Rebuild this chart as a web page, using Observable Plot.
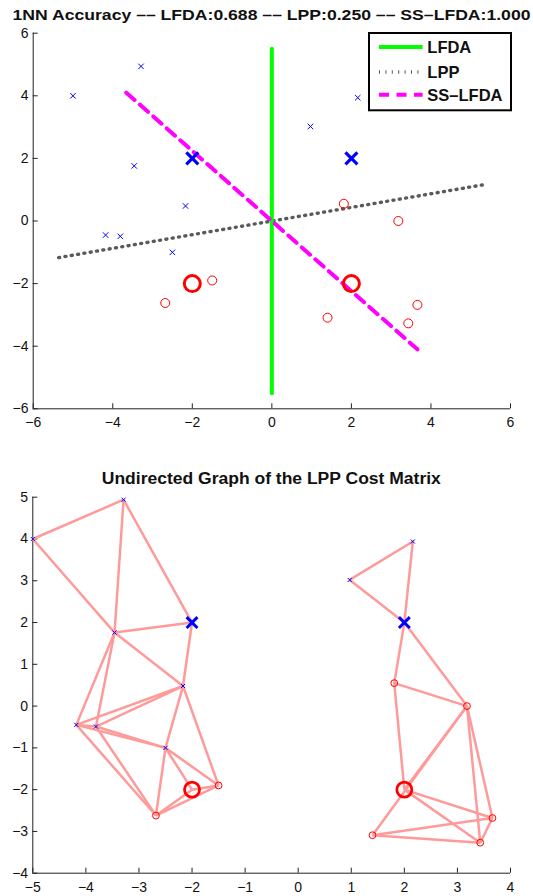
<!DOCTYPE html>
<html>
<head>
<meta charset="utf-8">
<script src="https://cdn.jsdelivr.net/npm/d3@7"></script>
<script src="https://cdn.jsdelivr.net/npm/@observablehq/plot@0.6"></script>
<style>
  body { margin: 0; background: #fff; }
  #page { position: relative; width: 533px; height: 896px; overflow: hidden;
          font-family: "Liberation Sans", Arial, Helvetica, sans-serif; }
  #page > * { position: absolute; }
</style>
</head>
<body>
<div id="page"></div>
<script>
const FONT = '"Liberation Sans", Arial, Helvetica, sans-serif';
const AXIS = "#222";

// ---- samples -------------------------------------------------------------
// unlabeled class-1 samples (crosses)
const crossX = [-3.29, -5.00, -3.46, -2.17, -4.18, -3.81, -2.50, 2.16, 0.97];
const crossY = [ 4.94,  4.00,  1.76,  0.48, -0.45, -0.49, -1.00, 3.94, 3.02];
// unlabeled class-2 samples (circles)
const circleX = [-1.50, -2.68, 1.81, 3.18,  3.66,  1.40,  3.43];
const circleY = [-1.90, -2.62, 0.55, 0.00, -2.68, -3.09, -3.27];
// labeled samples
const labeledCrossX = [-2, 2];
const labeledCrossY = [ 2, 2];
const labeledCircleX = [-2, 2];
const labeledCircleY = [-2, -2];

// ---- embedding directions (segment end points) ----------------------------
const lfdaX = [0, 0];          const lfdaY = [-5.5, 5.5];
const lppX = [-5.36, 5.33];    const lppY = [-1.17, 1.16];
const sslfdaX = [-3.66, 3.66]; const sslfdaY = [4.1, -4.1];

// ---- LPP affinity graph (pairs of sample ids) -----------------------------
const edgeFrom = ["c1","c0","c0","c1","c2","c2","xa","c2","c2","c4","c4","c5","c4","c5","c4","c5","c3","c3","c6","c6","c6","o1","o1","oa",
                  "c8","c8","c7","xb","xb","o2","o2","o3","o3","o3","o3","ob","ob","o5","o5","o4"];
const edgeTo   = ["c0","c2","xa","c2","c3","xa","c3","c4","c5","c5","c3","c3","c6","c6","o1","o1","c6","o0","o1","o0","oa","o0","oa","o0",
                  "c7","xb","xb","o2","o3","o3","ob","ob","o5","o6","o4","o4","o6","o4","o6","o6"];

// ---- ticks ----------------------------------------------------------------
const topTicks = [-6, -4, -2, 0, 2, 4, 6];
const bottomXTicks = [-5, -4, -3, -2, -1, 0, 1, 2, 3, 4];
const bottomYTicks = [-4, -3, -2, -1, 0, 1, 2, 3, 4, 5];

// ---- texts ----------------------------------------------------------------
const topTitle = "1NN Accuracy –– LFDA:0.688 –– LPP:0.250 –– SS–LFDA:1.000";
const bottomTitle = "Undirected Graph of the LPP Cost Matrix";
const legendNames = ["LFDA", "LPP", "SS–LFDA"];

// ---- derived tables -------------------------------------------------------
const pts = xs => ys => xs.map((x, i) => ({x, y: ys[i]}));
const crosses = pts(crossX)(crossY);
const circles = pts(circleX)(circleY);
const labeledCrosses = pts(labeledCrossX)(labeledCrossY);
const labeledCircles = pts(labeledCircleX)(labeledCircleY);

const byId = {};
crosses.forEach((p, i) => byId["c" + i] = p);
circles.forEach((p, i) => byId["o" + i] = p);
byId.xa = labeledCrosses[0]; byId.xb = labeledCrosses[1];
byId.oa = labeledCircles[0]; byId.ob = labeledCircles[1];
const edges = edgeFrom.map((a, i) => ({a: byId[a], b: byId[edgeTo[i]]}));

const page = document.getElementById("page");

// line styles shared by the plot and its legend
const LPP_STROKE = "#5a5a5a", LPP_WIDTH = 3.4, LPP_DASH = "1 5.4";

function axes(xTicks, yTicks, xMin, yMin) {
  return [
    Plot.ruleY([yMin], {stroke: AXIS, strokeWidth: 1}),
    Plot.ruleX([xMin], {stroke: AXIS, strokeWidth: 1}),
    Plot.axisX(xTicks, {tickSize: -5, tickPadding: 13.4, label: null, stroke: AXIS, fill: "#111"}),
    Plot.axisY(yTicks, {tickSize: -5, tickPadding: 9.7, label: null, stroke: AXIS, fill: "#111"})
  ];
}

// ---- top panel: three projection directions --------------------------------
const topPlot = Plot.plot({
  width: 533, height: 440,
  marginLeft: 32.7, marginRight: 23, marginTop: 32.7, marginBottom: 31.7,
  x: {domain: [-6, 6]},
  y: {domain: [-6, 6]},
  style: {fontFamily: FONT, fontSize: "14px", color: AXIS, background: "transparent", overflow: "visible"},
  marks: [
    ...axes(topTicks, topTicks, -6, -6),
    Plot.line(pts(lppX)(lppY), {x: "x", y: "y", stroke: LPP_STROKE, strokeWidth: LPP_WIDTH, strokeDasharray: LPP_DASH}),
    Plot.line(pts(lfdaX)(lfdaY), {x: "x", y: "y", stroke: "#00ff00", strokeWidth: 4}),
    Plot.line(pts(sslfdaX)(sslfdaY), {x: "x", y: "y", stroke: "#ff00ff", strokeWidth: 4, strokeDasharray: "11 7"}),
    Plot.dot(crosses, {x: "x", y: "y", symbol: "times", r: 2.6, stroke: "#0000ff", strokeWidth: 1}),
    Plot.dot(circles, {x: "x", y: "y", r: 4.5, stroke: "#ff0000", strokeWidth: 1}),
    Plot.dot(labeledCrosses, {x: "x", y: "y", symbol: "times", r: 5.5, stroke: "#0000ff", strokeWidth: 3.2}),
    Plot.dot(labeledCircles, {x: "x", y: "y", r: 8, stroke: "#ff0000", strokeWidth: 3})
  ]
});
topPlot.style.left = "0px";
topPlot.style.top = "0px";
page.appendChild(topPlot);

// ---- bottom panel: LPP neighbourhood graph ---------------------------------
const bottomPlot = Plot.plot({
  width: 533, height: 456,
  marginLeft: 32.3, marginRight: 23, marginTop: 56.7, marginBottom: 23.3,
  x: {domain: [-5, 4]},
  y: {domain: [-4, 5]},
  style: {fontFamily: FONT, fontSize: "14px", color: AXIS, background: "transparent", overflow: "visible"},
  marks: [
    ...axes(bottomXTicks, bottomYTicks, -5, -4),
    Plot.link(edges, {x1: d => d.a.x, y1: d => d.a.y, x2: d => d.b.x, y2: d => d.b.y,
                      stroke: "#ff9a9a", strokeWidth: 2.5}),
    Plot.dot(crosses, {x: "x", y: "y", symbol: "times", r: 2, stroke: "#0000ff", strokeWidth: 1}),
    Plot.dot(circles, {x: "x", y: "y", r: 3.4, stroke: "#ff0000", strokeWidth: 1}),
    Plot.dot(labeledCrosses, {x: "x", y: "y", symbol: "times", r: 5, stroke: "#0000ff", strokeWidth: 3}),
    Plot.dot(labeledCircles, {x: "x", y: "y", r: 7.5, stroke: "#ff0000", strokeWidth: 2.8})
  ]
});
bottomPlot.style.left = "0px";
bottomPlot.style.top = "440px";
page.appendChild(bottomPlot);

// ---- titles ---------------------------------------------------------------
const titles = d3.create("svg").attr("width", 533).attr("height", 896)
  .style("left", "0px").style("top", "0px").style("pointer-events", "none");
titles.append("text").attr("x", 271.5).attr("y", 20)
  .attr("text-anchor", "middle").attr("textLength", 518).attr("lengthAdjust", "spacingAndGlyphs")
  .attr("font-family", FONT).attr("font-weight", "bold").attr("font-size", 15.5).attr("fill", "#111")
  .text(topTitle);
titles.append("text").attr("x", 271.3).attr("y", 484)
  .attr("text-anchor", "middle").attr("textLength", 339).attr("lengthAdjust", "spacingAndGlyphs")
  .attr("font-family", FONT).attr("font-weight", "bold").attr("font-size", 16).attr("fill", "#111")
  .text(bottomTitle);
page.appendChild(titles.node());

// ---- legend of the top panel ------------------------------------------------
const legend = d3.create("svg").attr("width", 144).attr("height", 80)
  .style("left", "367.7px").style("top", "32px");
legend.append("rect").attr("x", 1).attr("y", 1).attr("width", 142).attr("height", 77.3)
  .attr("fill", "#fff").attr("stroke", "#000").attr("stroke-width", 2);
const swatches = [
  {stroke: "#00ff00", dash: null, width: 4},
  {stroke: LPP_STROKE, dash: LPP_DASH, width: LPP_WIDTH},
  {stroke: "#ff00ff", dash: "10 7.5", width: 4}
];
const rowY = [15, 40, 62.7];
legendNames.forEach((name, i) => {
  legend.append("line").attr("x1", 11).attr("x2", 54.6).attr("y1", rowY[i]).attr("y2", rowY[i])
    .attr("stroke", swatches[i].stroke).attr("stroke-width", swatches[i].width)
    .attr("stroke-dasharray", swatches[i].dash);
  legend.append("text").attr("x", 59.3).attr("y", rowY[i] + 5.8)
    .attr("font-family", FONT).attr("font-weight", "bold").attr("font-size", 16.5).attr("fill", "#111")
    .text(name);
});
page.appendChild(legend.node());
</script>
</body>
</html>
